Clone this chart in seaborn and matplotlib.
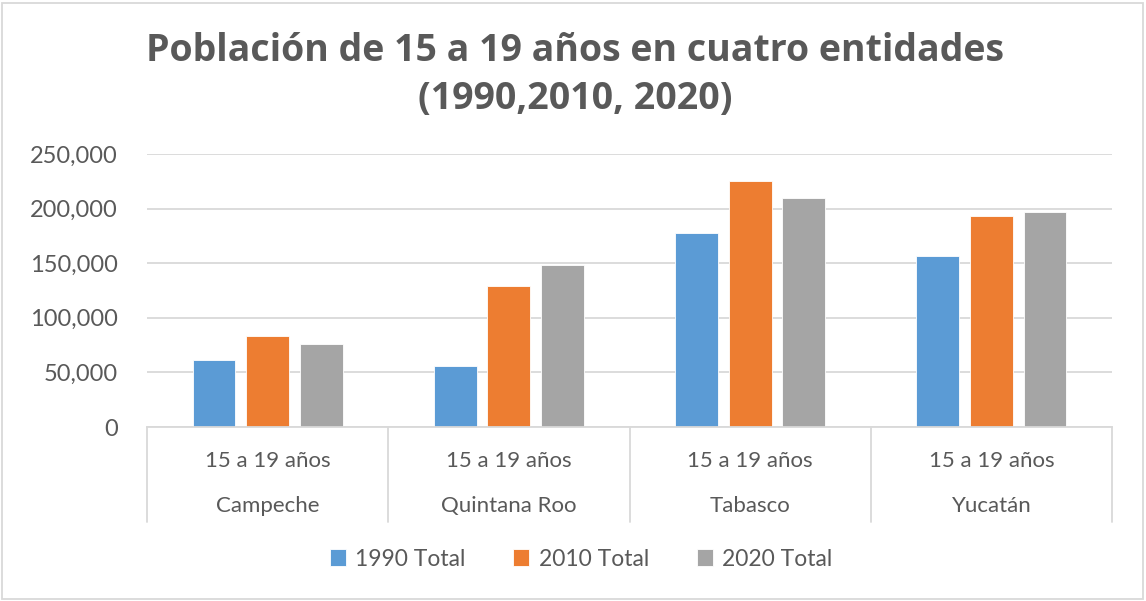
import matplotlib
matplotlib.use("Agg")
import matplotlib.pyplot as plt
import matplotlib.transforms as mtransforms
from matplotlib.patches import Rectangle
from matplotlib.ticker import FuncFormatter
import seaborn as sns
import pandas as pd

# ---- data ----
states = ["Campeche", "Quintana Roo", "Tabasco", "Yucatán"]
age_group = "15 a 19 años"
series_names = ["1990 Total", "2010 Total", "2020 Total"]
v1990 = [61300, 56100, 177300, 156600]
v2010 = [83300, 129000, 225300, 193200]
v2020 = [75700, 148300, 209400, 196600]
colors = ["#5B9BD5", "#ED7D31", "#A5A5A5"]
title = "Población de 15 a 19 años en cuatro entidades\n(1990,2010, 2020)"

rows = []
for name, vals in zip(series_names, [v1990, v2010, v2020]):
    for st, v in zip(states, vals):
        rows.append({"estado": st, "serie": name, "valor": v})
df = pd.DataFrame(rows)

sns.set_theme(style="white")
plt.rcParams["font.family"] = ["Lato", "DejaVu Sans"]
txt = "#595959"
grid = "#D9D9D9"

fig = plt.figure(figsize=(11.46, 6.01), dpi=100)
ax = fig.add_axes([147 / 1146, 1 - 427 / 601, (1112 - 147) / 1146, (427 - 154) / 601])

sns.barplot(data=df, x="estado", y="valor", hue="serie", order=states,
            hue_order=series_names, palette=colors, width=0.666, gap=0.2,
            saturation=1, ax=ax, legend=True, edgecolor="white", linewidth=0.6)

ax.set_ylim(0, 250000)
ax.set_xlim(-0.5, len(states) - 0.5)
ax.set_yticks(range(0, 250001, 50000))
ax.yaxis.set_major_formatter(FuncFormatter(lambda v, p: f"{int(v):,}"))
ax.grid(axis="y", color=grid, linewidth=1.3)
ax.set_axisbelow(True)
for s in ["top", "right", "left"]:
    ax.spines[s].set_visible(False)
ax.spines["bottom"].set_color(grid)
ax.spines["bottom"].set_linewidth(1.3)
ax.tick_params(axis="y", length=0, pad=21, labelsize=17, labelcolor=txt)
ax.set_xticks([])
ax.set_xlabel("")
ax.set_ylabel("")

# multi-level category axis
trans = mtransforms.blended_transform_factory(ax.transData, ax.transAxes)
for i in range(len(states) + 1):
    ax.plot([i - 0.5, i - 0.5], [0, -0.348], transform=trans, color=grid,
            linewidth=1.3, clip_on=False)
for i, st in enumerate(states):
    ax.text(i, -0.1245, age_group, transform=trans, ha="center", va="center",
            fontsize=16, color=txt)
    ax.text(i, -0.289, st, transform=trans, ha="center", va="center",
            fontsize=16, color=txt)

# title
fig.text(575 / 1146, 1 - 75 / 601, title, ha="center", va="center",
         fontsize=27, fontweight="bold", color=txt, linespacing=1.35,
         family=["Open Sans", "DejaVu Sans"])

# legend
handles, labels = ax.get_legend_handles_labels()
ax.get_legend().remove()
fig.legend(handles, labels, loc="center", bbox_to_anchor=(581 / 1146, 1 - 559 / 601),
           ncol=3, frameon=False, fontsize=16.5, labelcolor=txt,
           handlelength=0.7, handleheight=0.7, handletextpad=0.4, columnspacing=2.1)

# chart border
fig.patches.append(Rectangle((2 / 1146, 2 / 601), 1141 / 1146, 596 / 601,
                             transform=fig.transFigure, fill=False,
                             edgecolor="#D9D9D9", linewidth=1.3))

fig.savefig("out.png", dpi=100, facecolor="white")
